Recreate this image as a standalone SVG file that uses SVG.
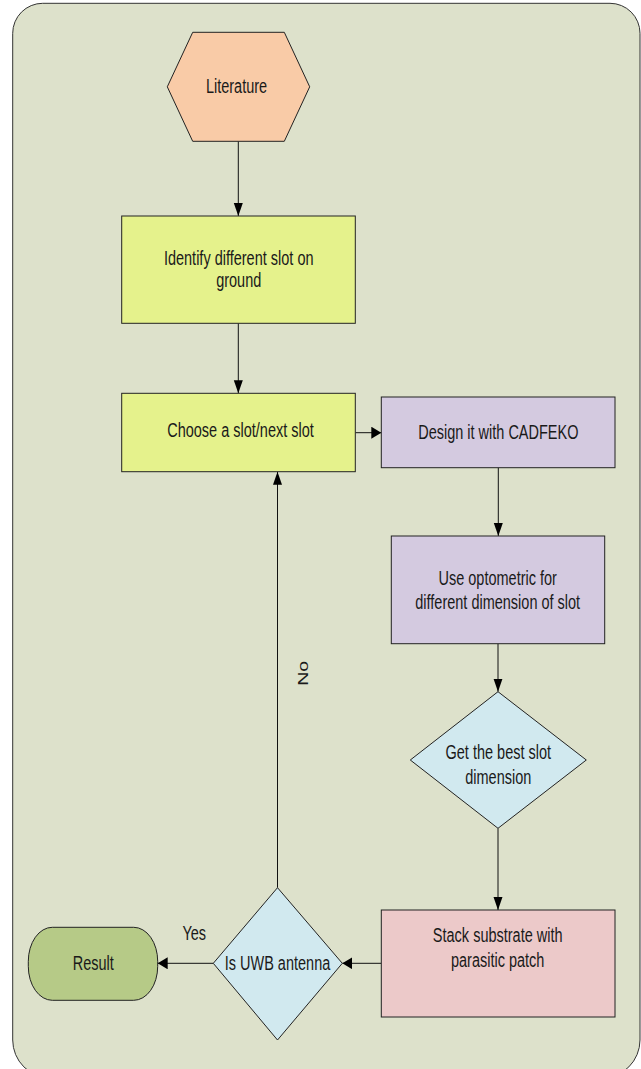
<svg xmlns="http://www.w3.org/2000/svg" width="641" height="1069" viewBox="0 0 641 1069">
<defs>
<style>
.bg{fill:#dde1cb;stroke:#333;stroke-width:1}
.nd{stroke:#222;stroke-width:1}
.t{font-family:"Liberation Sans",Arial,sans-serif;font-size:14.5px;fill:#1a1a1a;text-anchor:middle}
.c{fill:none;stroke:#111;stroke-width:1}
</style>
<marker id="aV" markerUnits="userSpaceOnUse" markerWidth="14" markerHeight="14" refX="13" refY="4.5" orient="auto">
<path d="M0,0 L13,4.5 L0,9 Z" fill="#000"/>
</marker>
<marker id="aH" markerUnits="userSpaceOnUse" markerWidth="14" markerHeight="14" refX="10" refY="6" orient="auto">
<path d="M0,0 L10,6 L0,12 Z" fill="#000"/>
</marker>
</defs>
<path class="bg" d="M12.7,33.3 A30,30 0 0 1 42.7,3.3 L610,3.3 A30,30 0 0 1 640,33.3 L640,1040 A38,38 0 0 1 602,1078 L50.7,1078 A38,38 0 0 1 12.7,1040 Z"/>
<g id="connectors">
<path class="c" d="M238.3,141.3 L238.3,216" marker-end="url(#aV)"/>
<path class="c" d="M238.3,323.3 L238.3,393.3" marker-end="url(#aV)"/>
<path class="c" d="M355.3,432.7 L381.3,432.7" marker-end="url(#aH)"/>
<path class="c" d="M498.3,467.7 L498.3,536" marker-end="url(#aV)"/>
<path class="c" d="M498,643.7 L498,691.7" marker-end="url(#aV)"/>
<path class="c" d="M498,828.3 L498,910" marker-end="url(#aV)"/>
<path class="c" d="M381.3,963.3 L342.3,963.3" marker-end="url(#aH)"/>
<path class="c" d="M213.3,963.3 L157.7,963.3" marker-end="url(#aH)"/>
<path class="c" d="M277.5,887.7 L277.5,471.7" marker-end="url(#aV)"/>
<text class="t" transform="translate(308.3,673.3) scale(1,1.35) rotate(-90)">No</text>
<text class="t" transform="translate(194.3,940) scale(1,1.35)">Yes</text>
</g>
<g id="literature">
<polygon class="nd" fill="#f9cba7" points="167.3,86.8 192.7,32.3 284.3,32.3 309.7,86.8 284.3,141.3 192.7,141.3"/>
<text class="t" transform="translate(236.5,93.3) scale(1,1.35)">Literature</text>
</g>
<g id="identify">
<rect class="nd" fill="#e5f28c" x="121.7" y="216" width="233.6" height="107.3"/>
<text class="t" transform="translate(238.7,265) scale(1,1.35)">Identify different slot on</text>
<text class="t" transform="translate(238.7,287.3) scale(1,1.35)">ground</text>
</g>
<g id="choose">
<rect class="nd" fill="#e5f28c" x="121.7" y="393.3" width="233.6" height="78.4"/>
<text class="t" transform="translate(240.5,436.7) scale(1,1.35)">Choose a slot/next slot</text>
</g>
<g id="design">
<rect class="nd" fill="#d4cae0" stroke="#444" x="381.3" y="397" width="233.7" height="70.7"/>
<text class="t" transform="translate(498.3,439) scale(1,1.35)">Design it with CADFEKO</text>
</g>
<g id="optometric">
<rect class="nd" fill="#d4cae0" x="391.3" y="536" width="213.4" height="107.7"/>
<text class="t" transform="translate(497.7,585) scale(1,1.35)">Use optometric for</text>
<text class="t" transform="translate(497.7,609) scale(1,1.35)">different dimension of slot</text>
</g>
<g id="bestslot">
<polygon class="nd" fill="#d1e9ef" points="498,691.7 586.3,760 498,828.3 410.3,760"/>
<text class="t" transform="translate(498.3,759) scale(1,1.35)">Get the best slot</text>
<text class="t" transform="translate(498.3,784) scale(1,1.35)">dimension</text>
</g>
<g id="stack">
<rect class="nd" fill="#ecc9c9" x="381.3" y="910" width="233.7" height="107"/>
<text class="t" transform="translate(497.7,942.3) scale(1,1.35)">Stack substrate with</text>
<text class="t" transform="translate(497.7,966.7) scale(1,1.35)">parasitic patch</text>
</g>
<g id="uwb">
<polygon class="nd" fill="#d1e9ef" points="277.5,887.7 342.3,963.3 277.5,1040 213.3,963.3"/>
<text class="t" transform="translate(277.5,970) scale(1,1.35)">Is UWB antenna</text>
</g>
<g id="result">
<rect class="nd" fill="#b6ca87" x="28.3" y="927.3" width="129.4" height="73" rx="24" ry="34"/>
<text class="t" transform="translate(93.3,970) scale(1,1.35)">Result</text>
</g>
</svg>
